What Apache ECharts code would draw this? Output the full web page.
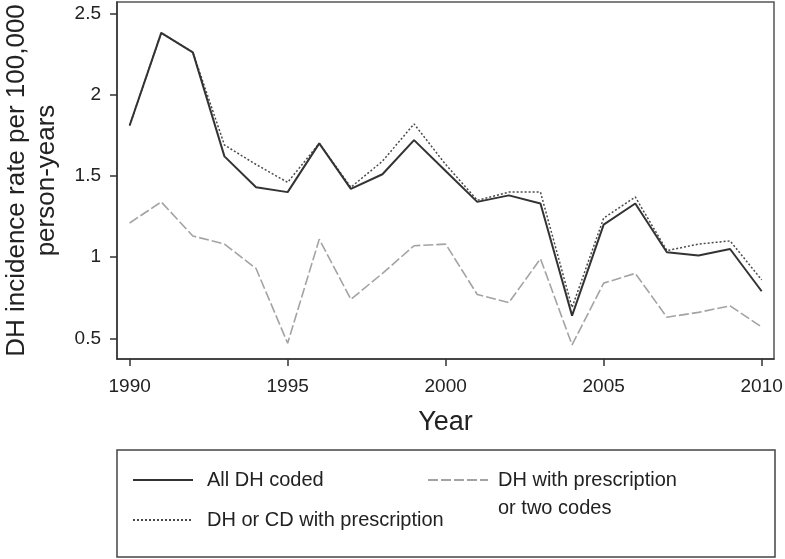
<!DOCTYPE html>
<html>
<head>
<meta charset="utf-8">
<script src="https://cdn.jsdelivr.net/npm/echarts@6/dist/echarts.min.js"></script>
<style>html,body{margin:0;padding:0;background:#fff}#c{width:785px;height:559px}</style>
</head>
<body>
<div id="c"></div>
<script>
const years = [1990,1991,1992,1993,1994,1995,1996,1997,1998,1999,2000,2001,2002,2003,2004,2005,2006,2007,2008,2009,2010];
const allDH = [1.81,2.38,2.26,1.62,1.43,1.40,1.70,1.42,1.51,1.72,1.53,1.34,1.38,1.33,0.64,1.20,1.33,1.03,1.01,1.05,0.79];
const dhOrCD = [1.81,2.38,2.26,1.69,1.57,1.46,1.70,1.43,1.59,1.82,1.57,1.35,1.40,1.40,0.69,1.24,1.37,1.04,1.08,1.10,0.86];
const dhTwo = [1.21,1.34,1.13,1.08,0.93,0.47,1.11,0.74,0.90,1.07,1.08,0.77,0.72,0.99,0.46,0.84,0.90,0.63,0.66,0.70,0.57];
const xTicks = [1990,1995,2000,2005,2010];
const yTicks = [0.5,1,1.5,2,2.5];
const names = ['All DH coded','DH or CD with prescription','DH with prescription\nor two codes'];

const pair = arr => years.map((y,i)=>[y,arr[i]]);
const font = "'Liberation Sans', Arial, sans-serif";
const chart = echarts.init(document.getElementById('c'), null, {renderer:'canvas'});
const legendCommon = {padding:0,itemWidth:60,itemHeight:14,itemStyle:{opacity:0,borderWidth:0}};
chart.setOption({
  animation:false,
  backgroundColor:'#fff',
  textStyle:{fontFamily:font},
  grid:{left:117,right:11,top:2,bottom:200,show:true,borderColor:'#555',borderWidth:1.5,backgroundColor:'transparent',
    containLabel:false,outerBoundsMode:'none'},
  xAxis:{type:'value',min:1989.6,max:2010.39,
    name:'Year',nameLocation:'middle',nameGap:50,
    nameTextStyle:{fontSize:27,color:'#222',fontFamily:font},
    axisLine:{show:true,lineStyle:{color:'#333',width:1.5}},
    axisTick:{show:true,length:7,customValues:xTicks,lineStyle:{color:'#333',width:1.5}},
    axisLabel:{customValues:xTicks,fontSize:19,color:'#222',margin:18,fontFamily:font,formatter:v=>String(v)},
    splitLine:{show:false}},
  yAxis:{type:'value',min:0.373,max:2.57,
    name:'DH incidence rate per 100,000\nperson-years',nameLocation:'middle',nameGap:55,
    nameTextStyle:{fontSize:26,lineHeight:30,color:'#222',fontFamily:font},
    axisLine:{show:true,lineStyle:{color:'#333',width:1.5}},
    axisTick:{show:true,length:7,customValues:yTicks,lineStyle:{color:'#333',width:1.5}},
    axisLabel:{customValues:yTicks,fontSize:19,color:'#222',margin:16,fontFamily:font,formatter:v=>String(v)},
    splitLine:{show:false}},
  legend:[
    Object.assign({data:[names[0]],left:132,top:468,
     textStyle:{fontSize:20,lineHeight:24,color:'#222',padding:[0,0,0,9],fontFamily:font}},legendCommon),
    Object.assign({data:[names[1]],left:132,top:508,
     textStyle:{fontSize:20,lineHeight:24,color:'#222',padding:[0,0,0,9],fontFamily:font}},legendCommon),
    Object.assign({data:[names[2]],left:427,top:438,formatter:n=>'\n'+n,
     textStyle:{fontSize:20,lineHeight:28,color:'#222',padding:[0,0,0,5],fontFamily:font}},legendCommon)
  ],
  graphic:[{type:'rect',shape:{x:117,y:450,width:658,height:107},style:{fill:'none',stroke:'#444',lineWidth:1.5},silent:true}],
  series:[
    {name:names[2],type:'line',data:pair(dhTwo),symbol:'none',
     lineStyle:{color:'#a3a3a3',width:1.6,type:[10,3]},itemStyle:{color:'#a3a3a3'}},
    {name:names[1],type:'line',data:pair(dhOrCD),symbol:'none',
     lineStyle:{color:'#4a4a4a',width:1.5,type:[2,2]},itemStyle:{color:'#4a4a4a'}},
    {name:names[0],type:'line',data:pair(allDH),symbol:'none',
     lineStyle:{color:'#333',width:2},itemStyle:{color:'#333'}}
  ]
});
</script>
</body>
</html>
